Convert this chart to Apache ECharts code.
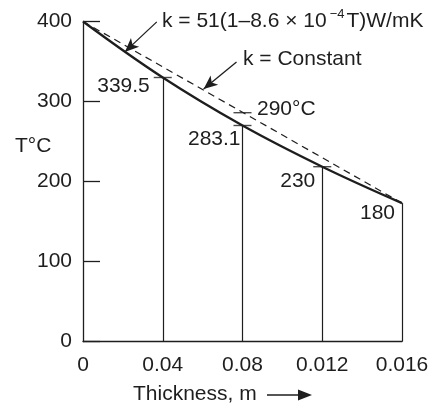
<!DOCTYPE html>
<html><head><meta charset="utf-8">
<script src="https://cdn.jsdelivr.net/npm/echarts@6/dist/echarts.min.js"></script>
<style>html,body{margin:0;padding:0;background:#fff}#c{width:435px;height:408px}</style>
</head><body><div id="c"></div>
<script>
// ---- data ----
const thickness = [0, 0.004, 0.008, 0.012, 0.016];
const xTickLabels = ['0', '0.04', '0.08', '0.012', '0.016'];
const yMin = 0, yMax = 400, yStep = 100;
const tVariableK = [400, 330, 270, 218.5, 173];   // solid curve
const tConstantK = [400, 173];                     // dashed straight line (ends)
const pointLabels = ['', '339.5', '283.1', '230', '180'];
const constMidX = 0.008, constMidT = 286, constMidLabel = '290°C';
const labelVariable = 'k = 51(1–8.6 × 10';
const labelConstant = 'k = Constant';
const yName = 'T°C';
const xName = 'Thickness, m';

const INK = '#1e1e1e';
const FONT = '"Liberation Sans", Arial, Helvetica, sans-serif';
const FS = 21;

const chart = echarts.init(document.getElementById('c'), null, {renderer: 'canvas'});

const solidData = thickness.map((x, i) => [x, tVariableK[i]]);
const dashData = [[thickness[0], tConstantK[0]], [thickness[thickness.length - 1], tConstantK[1]]];
const verticals = thickness.slice(1).map((x, i) => [
  {coord: [x, 0]}, {coord: [x, tVariableK[i + 1]]}
]);
const topTicks = thickness.slice(1, 4).map((x, i) => [x, tVariableK[i + 1]]);
topTicks.push([constMidX, constMidT]);
const labelOffsets = [[0, 0], [-13, 9], [-2, 14], [-7, 15], [-7, 10]];
const labelPts = thickness.map((x, i) => ({
  value: [x, tVariableK[i]],
  label: {formatter: pointLabels[i], offset: labelOffsets[i]}
})).filter((d, i) => pointLabels[i] !== '');

const option = {
  animation: false,
  backgroundColor: '#fff',
  textStyle: {fontFamily: FONT},
  grid: {left: 83, right: 33, top: 21.5, bottom: 66.5, containLabel: false},
  xAxis: {
    type: 'value', min: 0, max: 0.016, interval: 0.004,
    axisLine: {show: true, lineStyle: {color: INK, width: 1.3}},
    axisTick: {show: false},
    splitLine: {show: false},
    axisLabel: {
      color: INK, fontSize: FS, fontFamily: FONT, margin: 13,
      formatter: v => xTickLabels[Math.round(v / 0.004)]
    }
  },
  yAxis: {
    type: 'value', min: yMin, max: yMax, interval: yStep,
    axisLine: {show: true, lineStyle: {color: INK, width: 1.3}},
    axisTick: {show: true, inside: true, length: 17, lineStyle: {color: INK, width: 1.3}},
    splitLine: {show: false},
    axisLabel: {color: INK, fontSize: FS, fontFamily: FONT, margin: 11}
  },
  series: [
    {
      type: 'line', data: dashData, symbol: 'none',
      lineStyle: {color: INK, width: 1.2, type: [7, 5]}, z: 2
    },
    {
      type: 'line', data: solidData, symbol: 'none', smooth: 0.4,
      lineStyle: {color: INK, width: 2.3}, z: 3,
      markLine: {
        silent: true, symbol: 'none', animation: false,
        label: {show: false},
        lineStyle: {color: INK, width: 1.2, type: 'solid'},
        data: verticals
      }
    },
    {
      type: 'scatter', data: topTicks, symbol: 'rect', symbolSize: [18, 1.4],
      itemStyle: {color: INK}, z: 4, silent: true
    },
    {
      type: 'scatter', data: labelPts, symbol: 'circle', symbolSize: 0.01, silent: true,
      itemStyle: {color: INK, opacity: 1}, z: 5,
      label: {
        show: true, position: 'inside', align: 'right', verticalAlign: 'middle',
        color: INK, opacity: 1, fontSize: FS, fontFamily: FONT
      },
      markLine: {
        silent: true, animation: false, label: {show: false},
        symbol: ['none', 'arrow'], symbolSize: [9, 14],
        lineStyle: {color: INK, width: 1.3, type: 'solid', opacity: 1},
        data: [
          [{coord: [0.0037, 399.5], symbol: 'none'}, {coord: [0.0021, 362], symbol: 'arrow'}],
          [{coord: [0.0077, 349.5], symbol: 'none'}, {coord: [0.00605, 315.5], symbol: 'arrow'}]
        ]
      }
    }
  ],
  graphic: [
    {
      type: 'text', left: 162, top: 8,
      style: {
        text: '{a|' + labelVariable + '}{s|−4}{a|T)W/mK}',
        rich: {
          a: {fontSize: FS, fontFamily: FONT, fill: INK, color: INK, lineHeight: 24, verticalAlign: 'bottom'},
          s: {fontSize: 13, fontFamily: FONT, fill: INK, color: INK, lineHeight: 24, verticalAlign: 'top', padding: [0, 2, 0, 3]}
        }
      }
    },
    {type: 'text', left: 243, top: 49, style: {text: labelConstant, fontSize: FS, fontFamily: FONT, fill: INK}},
    {type: 'text', left: 257, top: 99, style: {text: constMidLabel, fontSize: FS, fontFamily: FONT, fill: INK}},
    {type: 'text', left: 15, top: 136, style: {text: yName, fontSize: FS, fontFamily: FONT, fill: INK}},
    {type: 'text', left: 133, top: 384, style: {text: xName, fontSize: FS, fontFamily: FONT, fill: INK}},
    {type: 'line', shape: {x1: 267, y1: 395, x2: 300, y2: 395}, style: {stroke: INK, lineWidth: 1.5}},
    {type: 'polygon', shape: {points: [[298, 389.5], [312, 395], [298, 400.5]]}, style: {fill: INK}}
  ]
};
chart.setOption(option);
</script>
</body></html>
